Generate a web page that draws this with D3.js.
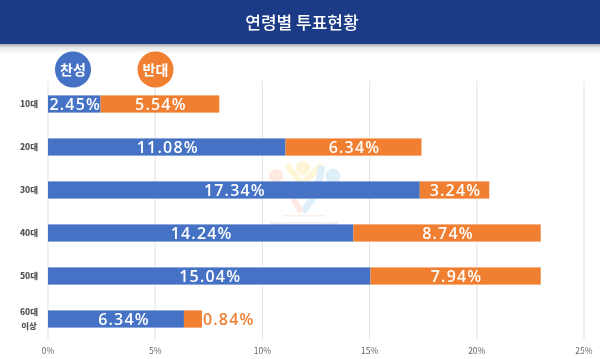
<!DOCTYPE html>
<html><head><meta charset="utf-8">
<script src="https://cdn.jsdelivr.net/npm/d3@7/dist/d3.min.js"></script>
<style>html,body{margin:0;padding:0;background:#fff}svg{display:block}text{font-family:"Noto Sans CJK KR","Noto Sans",sans-serif}</style>
</head><body><svg id="c" width="600" height="359"></svg>
<script>
const categories=[["10대"],["20대"],["30대"],["40대"],["50대"],["60대","이상"]];
const favor=[2.45,11.08,17.34,14.24,15.04,6.34];
const against=[5.54,6.34,3.24,8.74,7.94,0.84];
const ticks=[0,5,10,15,20,25];
const title="연령별 투표현황";
const legendNames=["찬성","반대"];
const blue="#4472c4",orange="#f07f31";

const svg=d3.select("#c");
const defs=svg.append("defs");
const g=defs.append("linearGradient").attr("id","sh").attr("x1",0).attr("x2",0).attr("y1",0).attr("y2",1);
g.append("stop").attr("offset",0).attr("stop-color","#a8a8a8");
g.append("stop").attr("offset",0.35).attr("stop-color","#e8e8e8");
g.append("stop").attr("offset",1).attr("stop-color","#fff");
defs.append("filter").attr("id","soft").append("feGaussianBlur").attr("stdDeviation",0.35);
const root=svg.append("g").attr("filter","url(#soft)");

const x=d3.scaleLinear().domain([0,25]).range([48,584]);
const y=d3.scaleBand().domain(d3.range(categories.length)).range([82.5,340.5]).paddingInner(0.6).paddingOuter(0.3);

root.append("rect").attr("x",0).attr("y",44).attr("width",600).attr("height",10).attr("fill","url(#sh)");
root.append("rect").attr("width",600).attr("height",44).attr("fill","#1a3a87");
root.append("text").attr("x",302).attr("y",29).attr("text-anchor","middle").attr("font-size",17).attr("font-weight",500).attr("fill","#fff").text(title);

// gridlines
root.append("g").selectAll("line").data(ticks).join("line")
 .attr("x1",d=>x(d)).attr("x2",d=>x(d)).attr("y1",81).attr("y2",340)
 .attr("stroke","#e3e3e3").attr("stroke-width",1);

// faint watermark
const wm=root.append("g").attr("opacity",0.25);
[[276,176,7,"#f6b08e"],[303,168,7,"#fbd65f"],[333,176,7.5,"#7cc0ea"]].forEach(([a,b,r,c])=>wm.append("circle").attr("cx",a).attr("cy",b).attr("r",r).attr("fill",c));
wm.append("path").attr("d","M287 165 L302 184 L322 165").attr("fill","none").attr("stroke","#fbd65f").attr("stroke-width",6);
wm.append("path").attr("d","M322 166 L317 192 L303 212").attr("fill","none").attr("stroke","#7cc0ea").attr("stroke-width",7);
wm.append("path").attr("d","M293 198 L301 212").attr("fill","none").attr("stroke","#f6b08e").attr("stroke-width",6);
wm.append("rect").attr("x",284).attr("y",215).attr("width",40).attr("height",1.5).attr("fill","#f6c08e");
wm.append("rect").attr("x",270).attr("y",222).attr("width",68).attr("height",3).attr("fill","#c8c8c8");

// bars
root.append("g").selectAll("rect").data(favor).join("rect")
 .attr("x",x(0)).attr("y",(d,i)=>y(i)).attr("width",d=>x(d)-x(0)).attr("height",y.bandwidth()).attr("fill",blue);
root.append("g").selectAll("rect").data(against).join("rect")
 .attr("x",(d,i)=>x(favor[i])).attr("y",(d,i)=>y(i)).attr("width",d=>x(d)-x(0)).attr("height",y.bandwidth()).attr("fill",orange);

const label=(sel)=>sel.style("font-family",'"Open Sans","Noto Sans",sans-serif').attr("font-size",16).attr("font-weight",600).attr("letter-spacing",1.2);
label(root.append("g").selectAll("text").data(favor).join("text"))
 .attr("x",(d,i)=>against[i]<2?x((d+against[i])/2)-1:x(d/2)+1).attr("y",(d,i)=>y(i)+y.bandwidth()/2+6).attr("text-anchor","middle").attr("fill","#fff").text(d=>d.toFixed(2)+"%");
label(root.append("g").selectAll("text").data(against).join("text"))
 .attr("x",(d,i)=>d<2?x(favor[i]+d)+1:x(favor[i]+d/2)+1).attr("y",(d,i)=>y(i)+y.bandwidth()/2+6)
 .attr("text-anchor",d=>d<2?"start":"middle").attr("fill",d=>d<2?orange:"#fff").text(d=>d.toFixed(2)+"%");

// category labels
categories.forEach((c,i)=>{
  const cy=y(i)+y.bandwidth()/2;
  c.forEach((t,j)=>root.append("text").attr("x",29).attr("y",cy+(j-(c.length-1)/2)*14+3).attr("text-anchor","middle")
   .attr("font-size",8.5).attr("font-weight",900).attr("fill","#555").text(t));
});
// x ticks
root.append("g").selectAll("text").data(ticks).join("text")
 .attr("x",d=>x(d)).attr("y",354).attr("text-anchor","middle")
 .attr("font-size",8.5).attr("fill","#666").text(d=>d+"%");

// legend
legendNames.forEach((n,i)=>{
  root.append("circle").attr("cx",i?155.5:73).attr("cy",69.5).attr("r",18).attr("fill",i?orange:blue);
  root.append("text").attr("x",i?155.5:73).attr("y",74.5).attr("text-anchor","middle")
   .attr("font-size",14).attr("font-weight",700).attr("fill","#fff").text(n);
});
</script></body></html>
